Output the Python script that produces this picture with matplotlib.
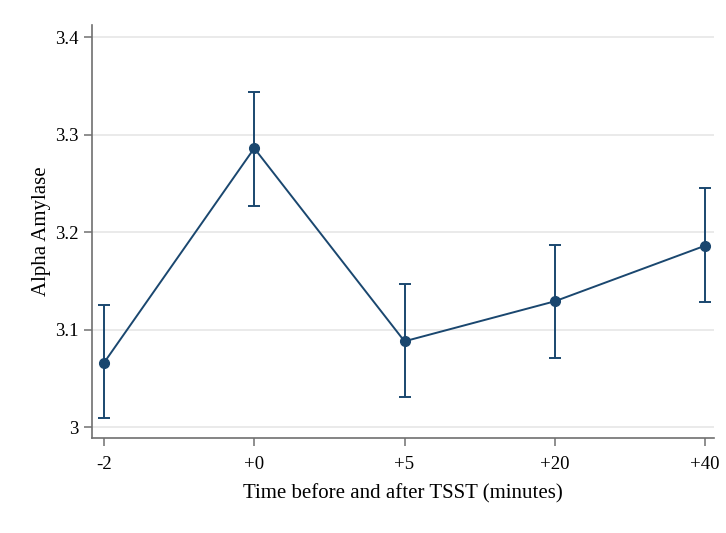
import matplotlib
matplotlib.use("Agg")
from matplotlib import pyplot as plt

# tiedot kuvasta luettuina
aikapisteet = ["-2", "+0", "+5", "+20", "+40"]
keskiarvot = [3.066, 3.286, 3.088, 3.129, 3.186]
ala_rajat = [3.009, 3.227, 3.031, 3.071, 3.128]
yla_rajat = [3.125, 3.344, 3.147, 3.187, 3.245]
y_tikit = [3.0, 3.1, 3.2, 3.3, 3.4]
y_tikki_tekstit = ["3", "3.1", "3.2", "3.3", "3.4"]

plt.rcParams["font.family"] = ["Liberation Serif", "DejaVu Serif"]
vari = "#1a476f"

fig = plt.figure(figsize=(7.26, 5.33), dpi=100)
ax = fig.add_axes([0.1267, 0.178, 0.8568, 0.775])

x = list(range(len(aikapisteet)))
ala = [k - a for k, a in zip(keskiarvot, ala_rajat)]
yla = [y - k for k, y in zip(keskiarvot, yla_rajat)]

ax.errorbar(x, keskiarvot, yerr=[ala, yla], color=vari, linewidth=1.4,
            marker="o", markersize=7, capsize=4, elinewidth=1.4, capthick=1.4, zorder=3)

ax.set_xlim(-0.08, 4.06)
ax.set_ylim(2.9887, 3.4123)
ax.set_xticks(x)
ax.set_xticklabels(aikapisteet)
ax.set_yticks(y_tikit)
ax.set_yticklabels(y_tikki_tekstit)
ax.grid(axis="y", color="#e6e6e6", linewidth=1.2, zorder=0)
ax.set_axisbelow(True)

for puoli in ["top", "right"]:
    ax.spines[puoli].set_visible(False)
for puoli in ["left", "bottom"]:
    ax.spines[puoli].set_color("#707070")
    ax.spines[puoli].set_linewidth(1.2)
ax.tick_params(colors="#707070", labelcolor="black", labelsize=13.5, length=6, width=1.1)
ax.tick_params(axis="x", pad=7)

ax.set_ylabel("Alpha Amylase", fontsize=15, labelpad=3)
ax.set_xlabel("Time before and after TSST (minutes)", fontsize=15, labelpad=8)

fig.savefig("out.png", dpi=100)
